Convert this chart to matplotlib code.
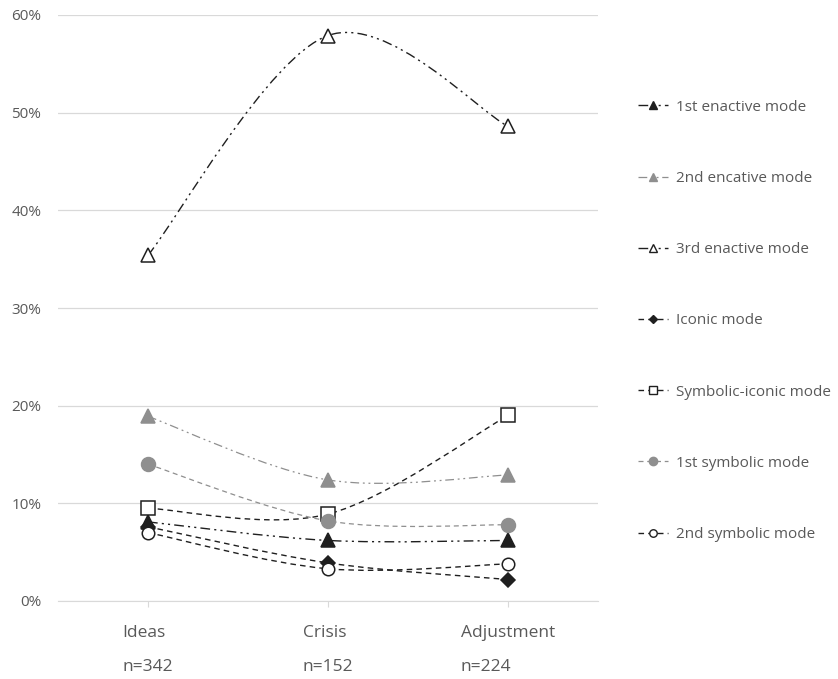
import matplotlib
matplotlib.use("Agg")
import matplotlib.pyplot as plt
from matplotlib.path import Path
from matplotlib.patches import PathPatch
from matplotlib.lines import Line2D
from matplotlib.ticker import PercentFormatter

plt.rcParams['font.family'] = ['Open Sans', 'DejaVu Sans']

# data (share of episodes, %)
phases = ['Ideas', 'Crisis', 'Adjustment']
sample_sizes = ['n=342', 'n=152', 'n=224']

enactive_1 = [8.1, 6.2, 6.2]
enactive_2 = [18.9, 12.4, 12.9]
enactive_3 = [35.4, 57.9, 48.6]
iconic = [7.6, 3.9, 2.2]
symbolic_iconic = [9.5, 8.9, 19.0]
symbolic_1 = [14.0, 8.2, 7.8]
symbolic_2 = [7.0, 3.3, 3.8]

labels = ['1st enactive mode', '2nd encative mode', '3rd enactive mode',
          'Iconic mode', 'Symbolic-iconic mode', '1st symbolic mode',
          '2nd symbolic mode']
series = [enactive_1, enactive_2, enactive_3, iconic, symbolic_iconic,
          symbolic_1, symbolic_2]

BLACK = '#1f1f1f'
GREY = '#8f8f8f'
ddot = (0, (7, 3, 1.5, 3, 1.5, 3))
dash = (0, (4, 3))
styles = [
    dict(color=BLACK, ls=ddot, lw=1.0, marker='^', ms=10, mfc=BLACK),
    dict(color=GREY, ls=ddot, lw=0.9, marker='^', ms=10, mfc=GREY),
    dict(color=BLACK, ls=ddot, lw=1.0, marker='^', ms=10, mfc='white'),
    dict(color=BLACK, ls=dash, lw=1.0, marker='D', ms=7, mfc=BLACK),
    dict(color=BLACK, ls=dash, lw=1.0, marker='s', ms=9.5, mfc='white'),
    dict(color=GREY, ls=dash, lw=0.9, marker='o', ms=10, mfc=GREY),
    dict(color=BLACK, ls=dash, lw=1.0, marker='o', ms=9, mfc='white'),
]


def smooth_path(xs, ys):
    # Excel style smoothed line: cubic bezier through the points
    verts = [(xs[0], ys[0])]
    codes = [Path.MOVETO]
    n = len(xs)
    for i in range(n - 1):
        p0 = (xs[max(i - 1, 0)], ys[max(i - 1, 0)])
        p1 = (xs[i], ys[i])
        p2 = (xs[i + 1], ys[i + 1])
        p3 = (xs[min(i + 2, n - 1)], ys[min(i + 2, n - 1)])
        c1 = (p1[0] + (p2[0] - p0[0]) / 6, p1[1] + (p2[1] - p0[1]) / 6)
        c2 = (p2[0] - (p3[0] - p1[0]) / 6, p2[1] - (p3[1] - p1[1]) / 6)
        verts += [c1, c2, p2]
        codes += [Path.CURVE4] * 3
    return Path(verts, codes)


fig = plt.figure(figsize=(8.38, 6.79), dpi=100)
ax = fig.add_axes([58 / 838, 1 - 601 / 679, 540 / 838, 586 / 679])

x = list(range(len(phases)))
handles = []
for vals, st, lab in zip(series, styles, labels):
    patch = PathPatch(smooth_path(x, vals), fill=False, edgecolor=st['color'],
                      linestyle=st['ls'], lw=st['lw'], capstyle='butt')
    ax.add_patch(patch)
    ax.plot(x, vals, ls='none', marker=st['marker'], ms=st['ms'],
            mfc=st['mfc'], mec=st['color'], mew=1.1)
    handles.append(Line2D([], [], color=st['color'], ls=st['ls'], lw=st['lw'],
                          marker=st['marker'], ms=st['ms'] * 0.6,
                          mfc=st['mfc'], mec=st['color'], label=lab))

ax.set_xlim(-0.5, 2.5)
ax.set_ylim(0, 60)
ax.set_yticks(range(0, 61, 10))
ax.yaxis.set_major_formatter(PercentFormatter(decimals=0))
ax.set_xticks(x)
ax.set_xticklabels([f'{p}\n{n}' for p, n in zip(phases, sample_sizes)],
                   multialignment='left', linespacing=2.5)

for s in ['left', 'right', 'top']:
    ax.spines[s].set_visible(False)
ax.spines['bottom'].set_color('#d9d9d9')
ax.grid(axis='y', color='#d9d9d9', lw=0.9)
ax.set_axisbelow(True)
ax.tick_params(axis='y', length=0, pad=12, labelsize=11, labelcolor='#595959')
ax.tick_params(axis='x', length=4, color='#d9d9d9', pad=13, labelsize=12.5,
               labelcolor='#595959')

fig.legend(handles=handles, loc='upper left', bbox_to_anchor=(630 / 838, 1 - 92 / 679),
           frameon=False, fontsize=11, labelcolor='#595959', handlelength=2.0,
           handletextpad=0.5, labelspacing=3.68, borderpad=0)

fig.savefig('out.png', dpi=100)
